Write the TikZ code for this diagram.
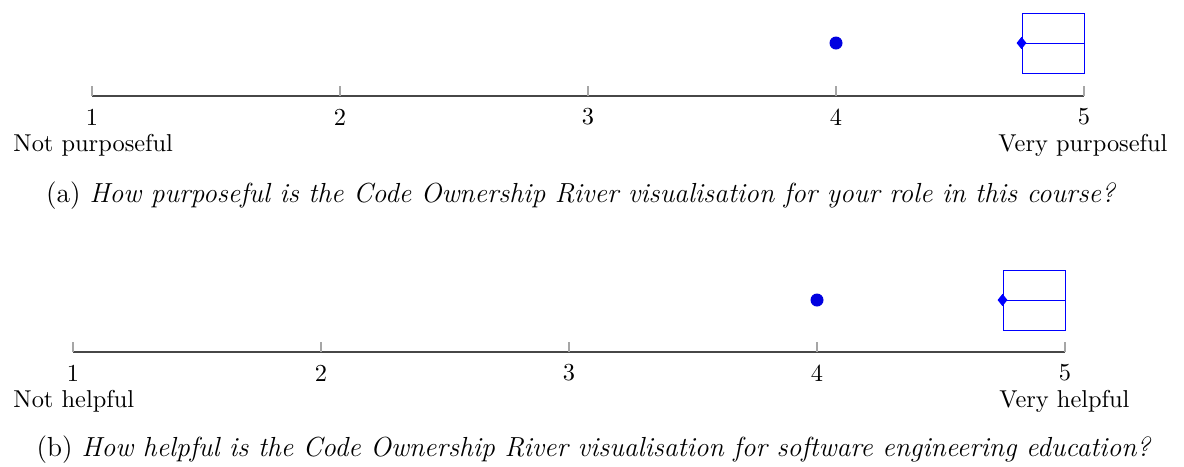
\documentclass[tikz,border=0pt]{standalone}
\usetikzlibrary{shapes.geometric}
\begin{document}
\begin{tikzpicture}[x=0.4098pt,y=-0.4098pt,
  axisline/.style={draw=black!72,line width=0.5pt},
  tickmark/.style={draw=black!35,line width=0.5pt},
  ticklabel/.style={inner sep=0pt,font=\normalsize},
  endlabel/.style={inner sep=0pt},
  meandot/.style={circle,fill=blue!88!black,draw=blue!88!black,inner sep=0pt,minimum size=12*0.4098pt},
  boxrect/.style={rectangle,draw=blue,line width=0.4pt,inner sep=0pt,minimum width=62*0.4098pt,minimum height=60*0.4098pt},
  meanmark/.style={diamond,fill=blue,inner sep=0pt,minimum width=4.2pt,minimum height=5.2pt},
  captext/.style={inner sep=0pt,font=\fontsize{11.3}{13.8}\selectfont}]
\useasboundingbox (0,0) rectangle (1184,466);

% ---------- (a) purposeful ----------
\coordinate (a1) at (92,96);
\coordinate (a5) at (1084,96);
\draw[axisline] (a1) -- (a5);
\foreach \i/\x in {1/92,2/340,3/588,4/836,5/1084}{
  \coordinate (at\i) at (\x,86);
  \draw[tickmark] (at\i) -- (\x,96);
  \node[ticklabel] (al\i) at (\x,117) {\i};
}
\node[endlabel,anchor=west] (alo) at (13,145) {Not purposeful};
\node[endlabel,anchor=east] (ahi) at (1168,145) {Very purposeful};
\node[meandot] (adot) at (836,43) {};
\node[boxrect] (abox) at (1053,43) {};
\draw[blue,line width=0.4pt] (abox.west) -- (abox.east);
\node[meanmark] (adia) at (abox.west) {};
\node[captext] (acap) at (581,196) {(a) \textit{How purposeful is the Code Ownership River visualisation for your role in this course?}};

% ---------- (b) helpful ----------
\coordinate (b1) at (73,352);
\coordinate (b5) at (1065,352);
\draw[axisline] (b1) -- (b5);
\foreach \i/\x in {1/73,2/321,3/569,4/817,5/1065}{
  \coordinate (bt\i) at (\x,342);
  \draw[tickmark] (bt\i) -- (\x,352);
  \node[ticklabel] (bl\i) at (\x,373) {\i};
}
\node[endlabel,anchor=west] (blo) at (13,401) {Not helpful};
\node[endlabel,anchor=east] (bhi) at (1130,401) {Very helpful};
\node[meandot] (bdot) at (817,300) {};
\node[boxrect] (bbox) at (1034,300) {};
\draw[blue,line width=0.4pt] (bbox.west) -- (bbox.east);
\node[meanmark] (bdia) at (bbox.west) {};
\node[captext] (bcap) at (594,450) {(b) \textit{How helpful is the Code Ownership River visualisation for software engineering education?}};
\end{tikzpicture}
\end{document}
